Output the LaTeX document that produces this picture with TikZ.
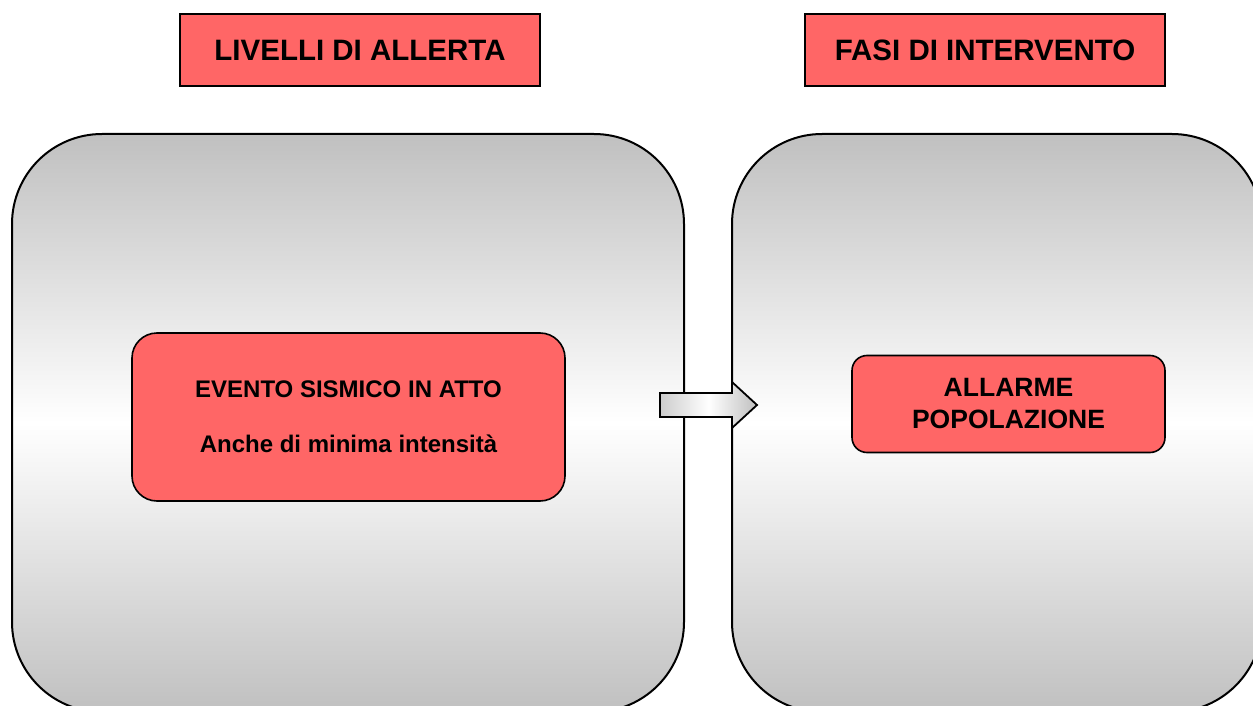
\documentclass[tikz,border=0pt]{standalone}
\usepackage{fontspec}
\setmainfont{Liberation Sans}
\definecolor{boxred}{HTML}{FF6666}
\definecolor{panelgray}{HTML}{C0C0C0}
\tikzset{
  panel/.style={draw=black, line width=2pt, rounded corners=90pt,
    top color=panelgray, bottom color=panelgray, middle color=white},
  titlebox/.style={draw=black, line width=1.3pt, fill=boxred,
    font=\fontsize{29.5}{34}\selectfont\bfseries},
  redbox/.style={draw=black, line width=1.6pt, fill=boxred, align=center},
  blockarrow/.style={draw=black, line width=1.8pt, line join=miter,
    left color=gray!40, right color=gray!50, middle color=white}
}
\begin{document}
\begin{tikzpicture}[x=1pt, y=-1pt]
\useasboundingbox (0,0) rectangle (1253,706);
% panels
\path[panel] (12,134) rectangle (684,712);
\path[panel] (732,134) rectangle (1262,712);
% titles
\node[titlebox, minimum width=360pt, minimum height=72pt, inner sep=0pt] (t1) at (360,50) {LIVELLI DI ALLERTA};
\node[titlebox, minimum width=360pt, minimum height=72pt, inner sep=0pt] (t2) at (985,50) {FASI DI INTERVENTO};
% red boxes
\node[redbox, rounded corners=25pt, minimum width=433pt, minimum height=168pt, inner sep=0pt,
  font=\fontsize{24}{29}\selectfont\bfseries] (ev) at (348.5,417)
  {EVENTO SISMICO IN ATTO\\[26pt]Anche di minima intensità};
\node[redbox, rounded corners=15pt, minimum width=313pt, minimum height=97pt, inner sep=0pt,
  font=\fontsize{26.5}{32}\selectfont\bfseries] (al) at (1008.5,404)
  {ALLARME\\POPOLAZIONE};
% block arrow
\path[blockarrow] (660,393) -- (732,393) -- (732,382) -- (757,405) -- (732,428) -- (732,417) -- (660,417) -- cycle;
\end{tikzpicture}
\end{document}
